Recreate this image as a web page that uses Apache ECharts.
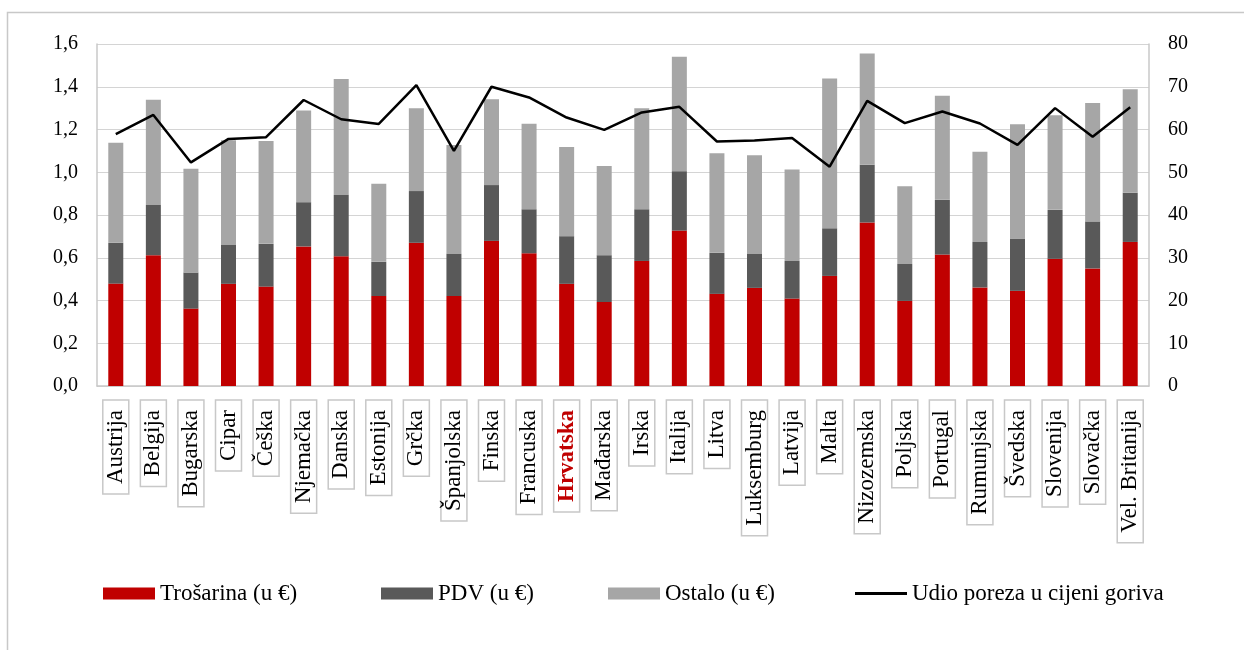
<!DOCTYPE html>
<html>
<head>
<meta charset="utf-8">
<script src="https://cdn.jsdelivr.net/npm/echarts@6/dist/echarts.min.js"></script>
<style>html,body{margin:0;padding:0;background:#fff;}#c{width:1244px;height:650px;}</style>
</head>
<body>
<div id="c"></div>
<script>
const categories = ['Austrija','Belgija','Bugarska','Cipar','Češka','Njemačka','Danska','Estonija','Grčka','Španjolska','Finska','Francuska','Hrvatska','Mađarska','Irska','Italija','Litva','Luksemburg','Latvija','Malta','Nizozemska','Poljska','Portugal','Rumunjska','Švedska','Slovenija','Slovačka','Vel. Britanija'];
const trosarina = [0.479,0.612,0.362,0.478,0.465,0.653,0.607,0.421,0.670,0.421,0.679,0.621,0.478,0.393,0.585,0.727,0.431,0.459,0.409,0.515,0.765,0.398,0.615,0.461,0.445,0.595,0.550,0.674];
const pdv = [0.191,0.235,0.169,0.182,0.200,0.207,0.287,0.160,0.242,0.197,0.261,0.206,0.223,0.219,0.242,0.278,0.192,0.159,0.176,0.223,0.270,0.173,0.256,0.213,0.245,0.229,0.220,0.230];
const ostalo = [0.468,0.492,0.485,0.490,0.481,0.429,0.542,0.365,0.387,0.509,0.401,0.400,0.417,0.417,0.472,0.535,0.466,0.461,0.428,0.701,0.521,0.364,0.487,0.422,0.535,0.443,0.554,0.484];
const udio = [58.9,63.4,52.3,57.8,58.2,66.9,62.4,61.3,70.4,55.0,70.0,67.5,62.8,59.9,64.0,65.3,57.2,57.4,58.0,51.3,66.7,61.5,64.2,61.4,56.4,65.0,58.3,65.2];
const leftTicks = ['0,0','0,2','0,4','0,6','0,8','1,0','1,2','1,4','1,6'];
const names = ['Trošarina (u €)','PDV (u €)','Ostalo (u €)','Udio poreza u cijeni goriva'];

const FONT = '"Liberation Serif", "DejaVu Serif", serif';
const chart = echarts.init(document.getElementById('c'));
const legendBase = {top: 582, padding: 0, itemWidth: 52, itemHeight: 12, itemGap: 0,
  textStyle: {fontFamily: FONT, fontSize: 23, color: '#000'}};
chart.setOption({
  animation: false,
  textStyle: {fontFamily: FONT},
  graphic: [{type: 'rect', shape: {x: 7.5, y: 12.5, width: 1300, height: 700},
    style: {fill: 'none', stroke: '#c8c8c8', lineWidth: 1.5}, silent: true, z: -10}],
  legend: [
    Object.assign({}, legendBase, {left: 103, data: [{name: names[0], icon: 'rect'}]}),
    Object.assign({}, legendBase, {left: 381, data: [{name: names[1], icon: 'rect'}]}),
    Object.assign({}, legendBase, {left: 608, data: [{name: names[2], icon: 'rect'}]}),
    Object.assign({}, legendBase, {left: 855, itemHeight: 3, data: [{name: names[3], icon: 'rect'}]})
  ],
  grid: {left: 97, right: 95, top: 44, bottom: 264},
  xAxis: {
    type: 'category', data: categories,
    axisLine: {lineStyle: {color: '#c8c8c8', width: 1.5}},
    axisTick: {show: false},
    axisLabel: {
      interval: 0, rotate: 90, margin: 14,
      fontFamily: FONT, fontSize: 23, lineHeight: 22, color: '#000',
      borderColor: '#c8c8c8', borderWidth: 1.5, padding: [2, 10],
      formatter: v => v === 'Hrvatska' ? '{hr|' + v + '}' : v,
      rich: {hr: {color: '#c00000', fontWeight: 'bold', fontFamily: FONT, fontSize: 23, lineHeight: 22}}
    }
  },
  yAxis: [
    {type: 'value', min: 0, max: 1.6, interval: 0.2,
      axisLine: {show: true, lineStyle: {color: '#c8c8c8', width: 1.5}},
      splitLine: {lineStyle: {color: '#d4d4d4', width: 1.2}},
      axisLabel: {margin: 19, fontFamily: FONT, fontSize: 20, color: '#000',
        formatter: v => leftTicks[Math.round(v / 0.2)]}},
    {type: 'value', min: 0, max: 80, interval: 10,
      axisLine: {show: true, lineStyle: {color: '#c8c8c8', width: 1.5}},
      splitLine: {show: false},
      axisLabel: {margin: 19, fontFamily: FONT, fontSize: 20, color: '#000'}}
  ],
  series: [
    {name: names[0], type: 'bar', stack: 's', data: trosarina, barWidth: 15, itemStyle: {color: '#c00000'}},
    {name: names[1], type: 'bar', stack: 's', data: pdv, barWidth: 15, itemStyle: {color: '#595959'}},
    {name: names[2], type: 'bar', stack: 's', data: ostalo, barWidth: 15, itemStyle: {color: '#a6a6a6'}},
    {name: names[3], type: 'line', yAxisIndex: 1, data: udio, symbol: 'none',
      lineStyle: {color: '#000', width: 2.5}, itemStyle: {color: '#000'}, z: 5}
  ]
});
</script>
</body>
</html>
